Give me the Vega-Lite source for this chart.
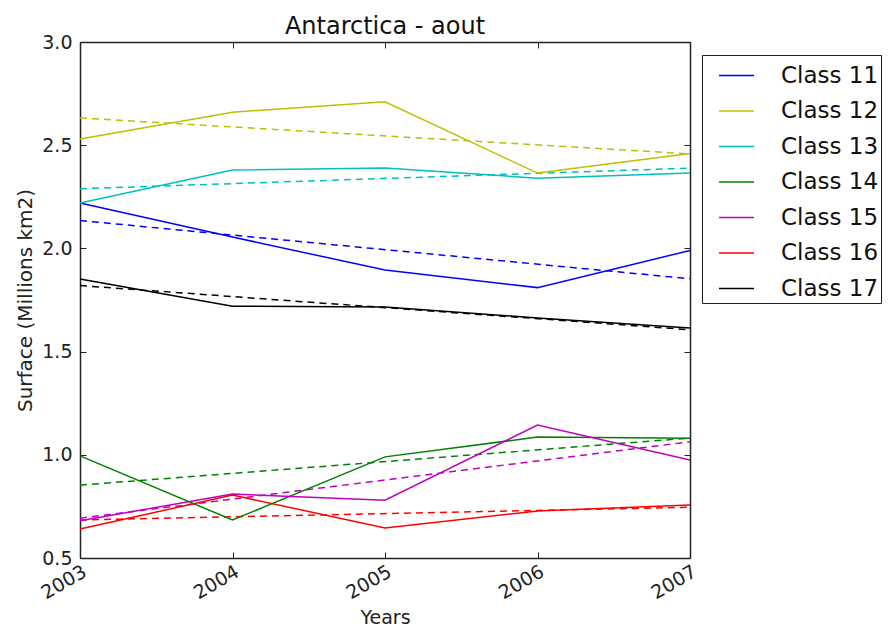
{
  "$schema": "https://vega.github.io/schema/vega-lite/v6.json",
  "autosize": "none",
  "width": 610,
  "height": 516,
  "padding": {"left": 80, "top": 42, "right": 199, "bottom": 70},
  "background": "white",
  "config": {
    "font": "DejaVu Sans",
    "view": {"stroke": null},
    "axis": {"grid": false, "domainColor": "#222222", "domainWidth": 1.5, "tickColor": "#222222", "labelColor": "#222222", "titleColor": "#222222", "labelFont": "DejaVu Sans", "titleFont": "DejaVu Sans", "titleFontWeight": "normal"}
  },
  "title": {"text": "Antarctica - aout", "fontSize": 24, "fontWeight": "normal", "font": "DejaVu Sans", "color": "#111111", "offset": -6, "anchor": "middle"},
  "data": {"values": [
    {"c": "Class 11", "year": 2003, "v": 2.22, "k": "obs"},
    {"c": "Class 11", "year": 2004, "v": 2.055, "k": "obs"},
    {"c": "Class 11", "year": 2005, "v": 1.895, "k": "obs"},
    {"c": "Class 11", "year": 2006, "v": 1.81, "k": "obs"},
    {"c": "Class 11", "year": 2007, "v": 1.99, "k": "obs"},
    {"c": "Class 12", "year": 2003, "v": 2.53, "k": "obs"},
    {"c": "Class 12", "year": 2004, "v": 2.66, "k": "obs"},
    {"c": "Class 12", "year": 2005, "v": 2.71, "k": "obs"},
    {"c": "Class 12", "year": 2006, "v": 2.365, "k": "obs"},
    {"c": "Class 12", "year": 2007, "v": 2.46, "k": "obs"},
    {"c": "Class 13", "year": 2003, "v": 2.22, "k": "obs"},
    {"c": "Class 13", "year": 2004, "v": 2.38, "k": "obs"},
    {"c": "Class 13", "year": 2005, "v": 2.39, "k": "obs"},
    {"c": "Class 13", "year": 2006, "v": 2.34, "k": "obs"},
    {"c": "Class 13", "year": 2007, "v": 2.365, "k": "obs"},
    {"c": "Class 14", "year": 2003, "v": 0.995, "k": "obs"},
    {"c": "Class 14", "year": 2004, "v": 0.684, "k": "obs"},
    {"c": "Class 14", "year": 2005, "v": 0.99, "k": "obs"},
    {"c": "Class 14", "year": 2006, "v": 1.086, "k": "obs"},
    {"c": "Class 14", "year": 2007, "v": 1.08, "k": "obs"},
    {"c": "Class 15", "year": 2003, "v": 0.68, "k": "obs"},
    {"c": "Class 15", "year": 2004, "v": 0.81, "k": "obs"},
    {"c": "Class 15", "year": 2005, "v": 0.78, "k": "obs"},
    {"c": "Class 15", "year": 2006, "v": 1.144, "k": "obs"},
    {"c": "Class 15", "year": 2007, "v": 0.975, "k": "obs"},
    {"c": "Class 16", "year": 2003, "v": 0.64, "k": "obs"},
    {"c": "Class 16", "year": 2004, "v": 0.805, "k": "obs"},
    {"c": "Class 16", "year": 2005, "v": 0.645, "k": "obs"},
    {"c": "Class 16", "year": 2006, "v": 0.728, "k": "obs"},
    {"c": "Class 16", "year": 2007, "v": 0.757, "k": "obs"},
    {"c": "Class 17", "year": 2003, "v": 1.852, "k": "obs"},
    {"c": "Class 17", "year": 2004, "v": 1.72, "k": "obs"},
    {"c": "Class 17", "year": 2005, "v": 1.716, "k": "obs"},
    {"c": "Class 17", "year": 2006, "v": 1.663, "k": "obs"},
    {"c": "Class 17", "year": 2007, "v": 1.614, "k": "obs"},
    {"c": "Class 11", "year": 2003, "v": 2.135, "k": "trend"},
    {"c": "Class 11", "year": 2007, "v": 1.853, "k": "trend"},
    {"c": "Class 12", "year": 2003, "v": 2.632, "k": "trend"},
    {"c": "Class 12", "year": 2007, "v": 2.458, "k": "trend"},
    {"c": "Class 13", "year": 2003, "v": 2.289, "k": "trend"},
    {"c": "Class 13", "year": 2007, "v": 2.389, "k": "trend"},
    {"c": "Class 14", "year": 2003, "v": 0.853, "k": "trend"},
    {"c": "Class 14", "year": 2007, "v": 1.081, "k": "trend"},
    {"c": "Class 15", "year": 2003, "v": 0.693, "k": "trend"},
    {"c": "Class 15", "year": 2007, "v": 1.063, "k": "trend"},
    {"c": "Class 16", "year": 2003, "v": 0.684, "k": "trend"},
    {"c": "Class 16", "year": 2007, "v": 0.746, "k": "trend"},
    {"c": "Class 17", "year": 2003, "v": 1.82, "k": "trend"},
    {"c": "Class 17", "year": 2007, "v": 1.606, "k": "trend"}
  ]},
  "layer": [
    {
      "transform": [{"filter": "datum.k === 'trend'"}],
      "mark": {"type": "line", "strokeWidth": 1.5, "strokeDash": [7, 5]},
      "encoding": {
        "x": {"field": "year", "type": "quantitative", "scale": {"domain": [2003, 2007], "nice": false, "zero": false},
          "axis": {"orient": "top", "values": [2003, 2004, 2005, 2006, 2007], "labels": false, "title": null, "tickSize": -6, "tickWidth": 1}},
        "y": {"field": "v", "type": "quantitative", "scale": {"domain": [0.5, 3.0], "nice": false, "zero": false},
          "axis": {"orient": "right", "values": [0.5, 1.0, 1.5, 2.0, 2.5, 3.0], "labels": false, "title": null, "tickSize": -6, "tickWidth": 1}},
        "color": {"field": "c", "type": "nominal"},
        "detail": {"field": "c"}
      }
    },
    {
      "transform": [{"filter": "datum.k === 'obs'"}],
      "mark": {"type": "line", "strokeWidth": 1.5},
      "encoding": {
        "x": {"field": "year", "type": "quantitative",
          "axis": {"orient": "bottom", "values": [2003, 2004, 2005, 2006, 2007], "format": "d", "labelAngle": -30, "labelAlign": "right", "labelBaseline": "top", "labelFontSize": 19, "tickSize": -6, "tickWidth": 1, "labelPadding": 10, "title": "Years", "titleFontSize": 19, "titlePadding": 6}},
        "y": {"field": "v", "type": "quantitative",
          "axis": {"orient": "left", "values": [0.5, 1.0, 1.5, 2.0, 2.5, 3.0], "format": ".1f", "labelFontSize": 19, "tickSize": -6, "tickWidth": 1, "labelPadding": 14, "title": "Surface (Millions km2)", "titleFontSize": 20, "titlePadding": 6}},
        "color": {"field": "c", "type": "nominal",
          "scale": {"domain": ["Class 11", "Class 12", "Class 13", "Class 14", "Class 15", "Class 16", "Class 17"],
                    "range": ["#0000ff", "#bfbf00", "#00bfbf", "#008000", "#bf00bf", "#ff0000", "#000000"]},
          "legend": {"title": null, "orient": "none", "legendX": 622, "legendY": 13, "symbolType": "stroke", "symbolSize": 1225, "symbolStrokeWidth": 1.5, "labelFontSize": 23, "labelFont": "DejaVu Sans", "labelColor": "#111111", "labelOffset": 26, "rowPadding": 4.5, "padding": 2, "symbolOffset": 14, "strokeColor": "#222222", "fillColor": "white", "cornerRadius": 0, "labelLimit": 200}}
      }
    }
  ]
}
